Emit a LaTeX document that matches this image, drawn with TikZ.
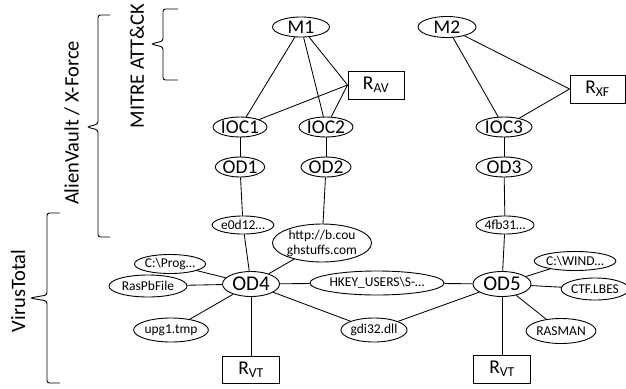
\documentclass[tikz,border=0pt]{standalone}
\usepackage{fontspec}
\setmainfont{Carlito}
\usetikzlibrary{shapes.geometric}
\tikzset{
  el/.style={ellipse, draw, inner sep=0pt, line width=0.9pt, font=\fontsize{19.5}{21}\selectfont},
  sel/.style={ellipse, draw, inner sep=0pt, line width=0.9pt, font=\fontsize{13.5}{15}\selectfont, align=center},
  rbox/.style={rectangle, draw, inner sep=0pt, line width=0.9pt, font=\fontsize{19.5}{21}\selectfont},
  lnk/.style={line width=0.85pt},
  brc/.style={line width=0.9pt, rounded corners=2.5pt},
  grp/.style={rotate=90, font=\fontsize{20.5}{22}\selectfont}
}
\newcommand{\mysub}[1]{\textsubscript{#1}}
\begin{document}
\begin{tikzpicture}[x=1pt,y=-1pt]
\useasboundingbox (0,0) rectangle (626,388);
% top level
\node[el, minimum width=57pt, minimum height=20pt] (m1) at (301,27) {M1};
\node[rbox, minimum width=56pt, minimum height=28pt] (rav) at (376,85) {R\mysub{AV}};
\node[el, minimum width=48pt, minimum height=20pt] (ioc1) at (240,127) {IOC1};
\node[el, minimum width=50pt, minimum height=20pt] (ioc2) at (326,127) {IOC2};
\node[el, minimum width=47pt, minimum height=20pt] (od1) at (240,167) {OD1};
\node[el, minimum width=50pt, minimum height=20pt] (od2) at (326,167) {OD2};
\node[el, minimum width=58pt, minimum height=21pt] (m2) at (447,27) {M2};
\node[rbox, minimum width=55pt, minimum height=28pt] (rxf) at (597.5,89) {R\mysub{XF}};
\node[el, minimum width=56pt, minimum height=20pt] (ioc3) at (504,127) {IOC3};
\node[el, minimum width=56pt, minimum height=20pt] (od3) at (504,167) {OD3};
% VirusTotal level
\node[sel, minimum width=56pt, minimum height=18pt] (e0d) at (243,225) {e0d12…};
\node[sel, minimum width=78pt, minimum height=38pt] (http) at (322,243) {http://b.cou\\ghstuffs.com};
\node[sel, minimum width=56pt, minimum height=18pt] (fb) at (505,225) {4fb31…};
\node[el, minimum width=57pt, minimum height=25pt, font=\fontsize{21}{23}\selectfont] (od4) at (251,284) {OD4};
\node[el, minimum width=58pt, minimum height=25pt, font=\fontsize{21}{23}\selectfont] (od5) at (502,284) {OD5};
\node[sel, minimum width=71pt, minimum height=19pt] (prog) at (170,264) {C:\textbackslash Prog…};
\node[sel, minimum width=78pt, minimum height=22pt] (ras) at (148,286) {RasPbFile};
\node[sel, minimum width=72pt, minimum height=24pt] (upg) at (171,330) {upg1.tmp};
\node[rbox, minimum width=57pt, minimum height=27pt] (rvt1) at (251,370) {R\mysub{VT}};
\node[sel, minimum width=129pt, minimum height=24pt] (hkey) at (377,283) {HKEY\_USERS\textbackslash S-…};
\node[sel, minimum width=65pt, minimum height=24pt] (gdi) at (374,330) {gdi32.dll};
\node[sel, minimum width=66pt, minimum height=19pt] (wind) at (575,261) {C:\textbackslash WIND…};
\node[sel, minimum width=64pt, minimum height=22pt] (ctf) at (595,289) {CTF.LBES};
\node[sel, minimum width=57pt, minimum height=25pt] (rasman) at (561,331) {RASMAN};
\node[rbox, minimum width=57pt, minimum height=28pt] (rvt2) at (502,369) {R\mysub{VT}};
% connectors top
\draw[lnk] (m1) -- (ioc1);
\draw[lnk] (m1) -- (ioc2);
\draw[lnk] (m1) -- (rav.west);
\draw[lnk] (rav.west) -- (ioc1);
\draw[lnk] (rav.west) -- (ioc2);
\draw[lnk] (ioc1) -- (od1);
\draw[lnk] (ioc2) -- (od2);
\draw[lnk] (od1) -- (e0d);
\draw[lnk] (od2) -- (http);
\draw[lnk] (m2) -- (ioc3);
\draw[lnk] (m2) -- (rxf.west);
\draw[lnk] (rxf.west) -- (ioc3);
\draw[lnk] (ioc3) -- (od3);
\draw[lnk] (od3) -- (fb);
% OD4
\draw[lnk] (od4) -- (e0d);
\draw[lnk] (od4) -- (http);
\draw[lnk] (od4) -- (prog);
\draw[lnk] (od4) -- (ras);
\draw[lnk] (od4) -- (upg);
\draw[lnk] (od4) -- (rvt1);
\draw[lnk] (od4) -- (hkey);
\draw[lnk] (od4) -- (gdi);
% OD5
\draw[lnk] (od5) -- (fb);
\draw[lnk] (od5) -- (hkey);
\draw[lnk] (od5) -- (gdi);
\draw[lnk] (od5) -- (wind);
\draw[lnk] (od5) -- (ctf);
\draw[lnk] (od5) -- (rasman);
\draw[lnk] (od5) -- (rvt2);
% braces
\draw[brc] (178,9) -- (163,9) -- (163,41) -- (151,44) -- (163,47) -- (163,80) -- (178,80);
\draw[brc] (110,15) -- (98,15) -- (98,124) -- (87,127) -- (98,130) -- (98,237) -- (110,237);
\draw[brc] (60,213) -- (47,213) -- (47,295) -- (30,298) -- (47,301) -- (47,383) -- (60,383);
% group labels
\node[grp] (tmitre) at (137,66) {MITRE ATT\&CK};
\node[grp] (talien) at (72,123) {AlienVault / X-Force};
\node[grp] (tvirus) at (18,291) {VirusTotal};
\end{tikzpicture}
\end{document}
